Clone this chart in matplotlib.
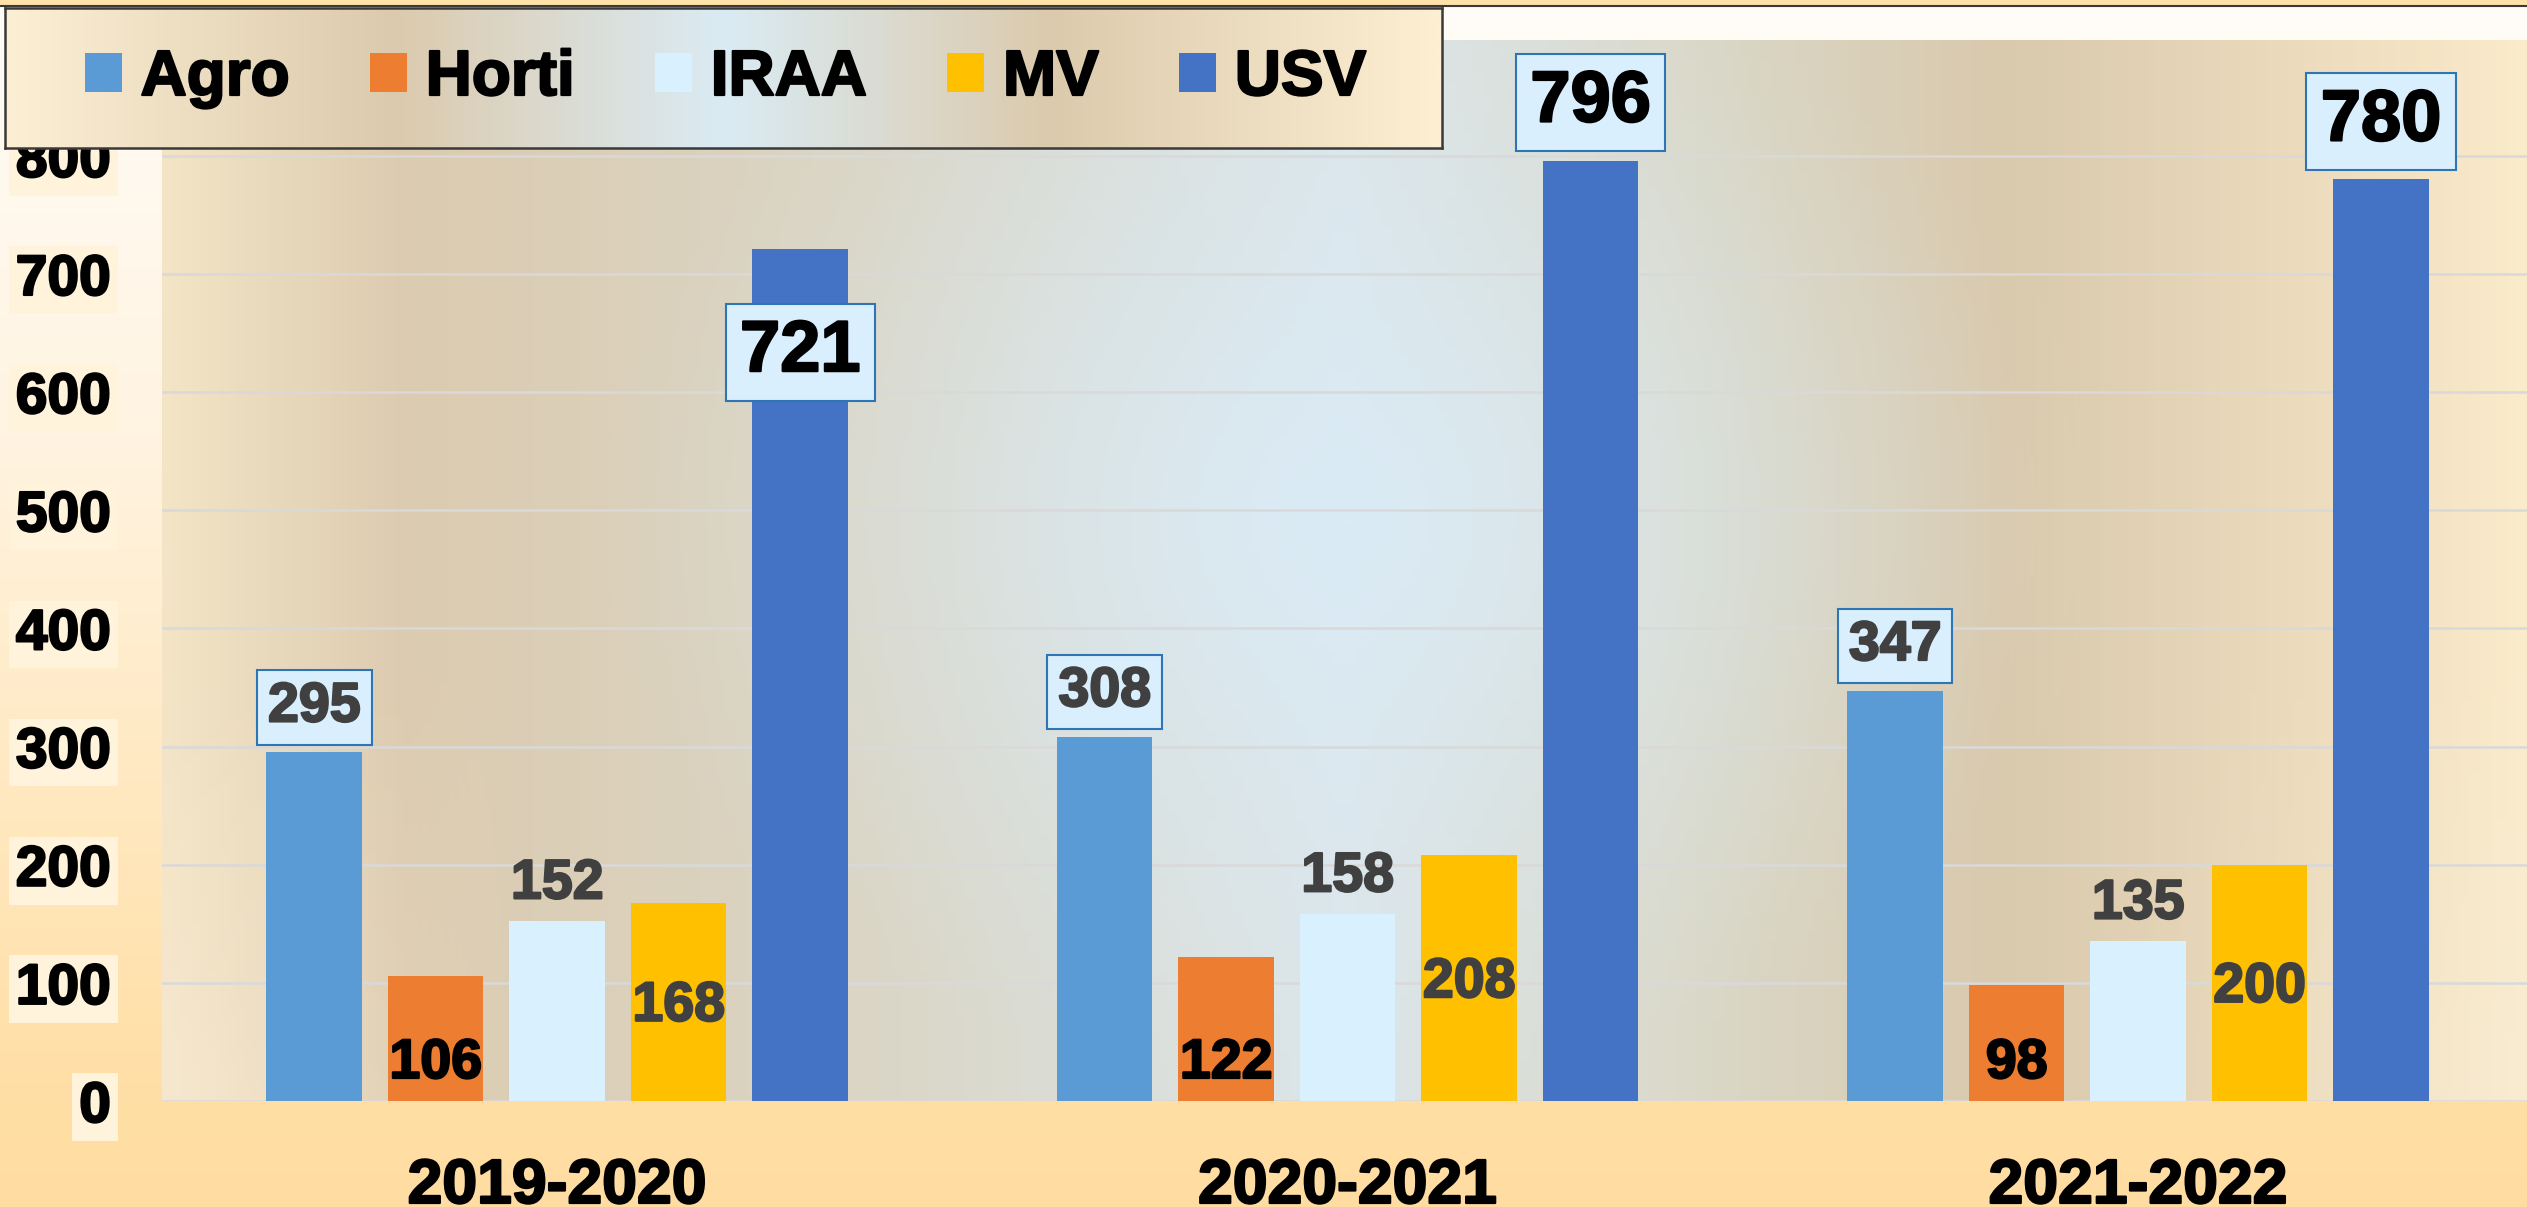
import numpy as np
import matplotlib.pyplot as plt
import matplotlib.patheffects as pe
from matplotlib.colors import LinearSegmentedColormap, to_rgb
from matplotlib.patches import Rectangle

plt.rcParams['font.family'] = ['Liberation Sans', 'DejaVu Sans']
plt.rcParams['font.weight'] = 'bold'

# data
years = ['2019-2020', '2020-2021', '2021-2022']
series = ['Agro', 'Horti', 'IRAA', 'MV', 'USV']
agro = [295, 308, 347]
horti = [106, 122, 98]
iraa = [152, 158, 135]
mv = [168, 208, 200]
usv = [721, 796, 780]
y_ticks = [0, 100, 200, 300, 400, 500, 600, 700, 800]

colors = ['#5B9BD5', '#ED7D31', '#D9F0FE', '#FFC000', '#4472C4']
W, H = 2527, 1207
PX = 72 / 100  # points per pixel


def cmap(stops):
    return LinearSegmentedColormap.from_list('g', stops)


def heavy(t, color, lw=1.6):
    t.set_path_effects([pe.withStroke(linewidth=lw, foreground=color)])


fig = plt.figure(figsize=(W / 100, H / 100), dpi=100)

# figure background
fbg = fig.add_axes([0, 0, 1, 1], zorder=-2)
vg = cmap([(0, '#FFFCF7'), (0.35, '#FFF4E2'), (0.9, '#FFDFA6'), (1, '#FFDDA2')])
col = vg(np.linspace(0, 1, 400))[:, None, :3]
fbg.imshow(col, aspect='auto', extent=[0, 1, 0, 1])
fbg.add_patch(Rectangle((0, 1 - 5 / H), 1, 5 / H, color='#FFE2A8'))
fbg.axhline(1 - 5.5 / H, color='#3A3A3A', lw=1.5)
fbg.set_xlim(0, 1)
fbg.set_ylim(0, 1)
fbg.axis('off')

# plot area
left, right, top, base = 162, W, 40, 1101
pos = [left / W, (H - base) / H, (right - left) / W, (base - top) / H]

pbg = fig.add_axes(pos, zorder=-1)
hg = cmap([(0, '#F4E4C6'), (0.1, '#DCCBB0'), (0.3, '#DAD6C6'), (0.5, '#DCE6EA'),
           (0.65, '#DAD8C8'), (0.78, '#D9C9AD'), (0.92, '#EEDDBE'), (1, '#FAEBCB')])
u = np.linspace(0, 1, 700)[None, :]
v = np.linspace(0, 1, 350)[:, None]
img = hg(np.clip(u + 0 * v, 0, 1))[..., :3]
r = np.sqrt(((u - 0.5) / 0.32) ** 2 + ((v - 0.45) / 0.55) ** 2)
w = np.clip(1 - r, 0, 1) ** 1.3 * 0.85
blue = np.array(to_rgb('#DAECF8'))
img = img * (1 - w[..., None]) + blue * w[..., None]
# lighter lower corners
cw = np.clip((v - 0.6) / 0.4, 0, 1) * np.clip(np.abs(u - 0.5) * 2 - 0.7, 0, 1) / 0.3 * 0.5
cream = np.array(to_rgb('#F8ECD6'))
img = img * (1 - cw[..., None]) + cream * cw[..., None]
pbg.imshow(img, aspect='auto', extent=[0, 1, 0, 1])
pbg.axis('off')

ax = fig.add_axes(pos, zorder=1)
ax.patch.set_alpha(0)

x = np.arange(len(years))
bw = 0.1208
step = 0.1537
values = [agro, horti, iraa, mv, usv]
bars = []
for i, vals in enumerate(values):
    b = ax.bar(x + (i - 2) * step, vals, width=bw, color=colors[i], label=series[i], zorder=3)
    bars.append(b)

ax.set_xlim(-0.5, 2.492)
ax.set_ylim(0, 898)
ax.set_yticks(y_ticks)
ax.set_xticks(x)
ax.set_xticklabels(years)
ax.yaxis.grid(True, color='#D9D9D9', lw=1.8, zorder=0)
ax.set_axisbelow(True)
for s in ax.spines.values():
    s.set_visible(False)
ax.tick_params(axis='y', length=0, pad=51 * PX, labelsize=41, labelcolor='black')
ax.tick_params(axis='x', length=0, pad=56 * PX, labelsize=45, labelcolor='black')
for lab in ax.get_yticklabels():
    lab.set_bbox(dict(boxstyle='square,pad=0.12', fc='#FFF3DC', ec='none'))
    heavy(lab, 'black')
for lab in ax.get_xticklabels():
    heavy(lab, 'black')

box = dict(boxstyle='square,pad=0.2', fc='#DAEFFE', ec='#2E75B6', lw=1.5)


def label(xv, yv, txt, dy, size, color, boxed=False):
    t = ax.annotate(str(txt), (xv, yv), xytext=(0, dy * PX), textcoords='offset points',
                    ha='center', va='center', fontsize=size, color=color, fontweight='bold',
                    bbox=box if boxed else None, zorder=5)
    heavy(t, color)


usv_pos = ['inside', 'outside', 'outside']
for j in range(len(years)):
    label(j - 2 * step, agro[j], agro[j], 45, 40, '#404040', True)
    label(j - step, 0, horti[j], 37, 40, 'black')
    label(j, iraa[j], iraa[j], 37, 40, '#404040')
    label(j + step, mv[j] / 2, mv[j], -5, 40, '#404040')
    dy = -103 if usv_pos[j] == 'inside' else 58
    label(j + 2 * step, usv[j], usv[j], dy, 52, 'black', True)

# legend box
lpos = [5 / W, 1 - 148 / H, 1437 / W, 140 / H]
lax = fig.add_axes(lpos, zorder=4)
lg = cmap([(0, '#FCEFD4'), (0.27, '#DCCAAD'), (0.5, '#DAEBF4'), (0.73, '#DCCAAC'), (1, '#FDEFD3')])
lax.imshow(lg(np.linspace(0, 1, 500))[None, :, :3], aspect='auto', extent=[0, 1, 0, 1])
lax.set_xlim(0, 1)
lax.set_ylim(0, 1)
lax.set_xticks([])
lax.set_yticks([])
for s in lax.spines.values():
    s.set_color('#3A3A3A')
    s.set_linewidth(1.8)
leg = lax.legend(bars, series, loc='center left', bbox_to_anchor=(80 / 1437, 0.5), ncol=5,
                 frameon=False, fontsize=46, handlelength=0.58, handleheight=0.58,
                 handletextpad=0.29, columnspacing=1.26, borderpad=0, borderaxespad=0)
for t in leg.get_texts():
    heavy(t, 'black')

fig.savefig('out.png', dpi=100)
